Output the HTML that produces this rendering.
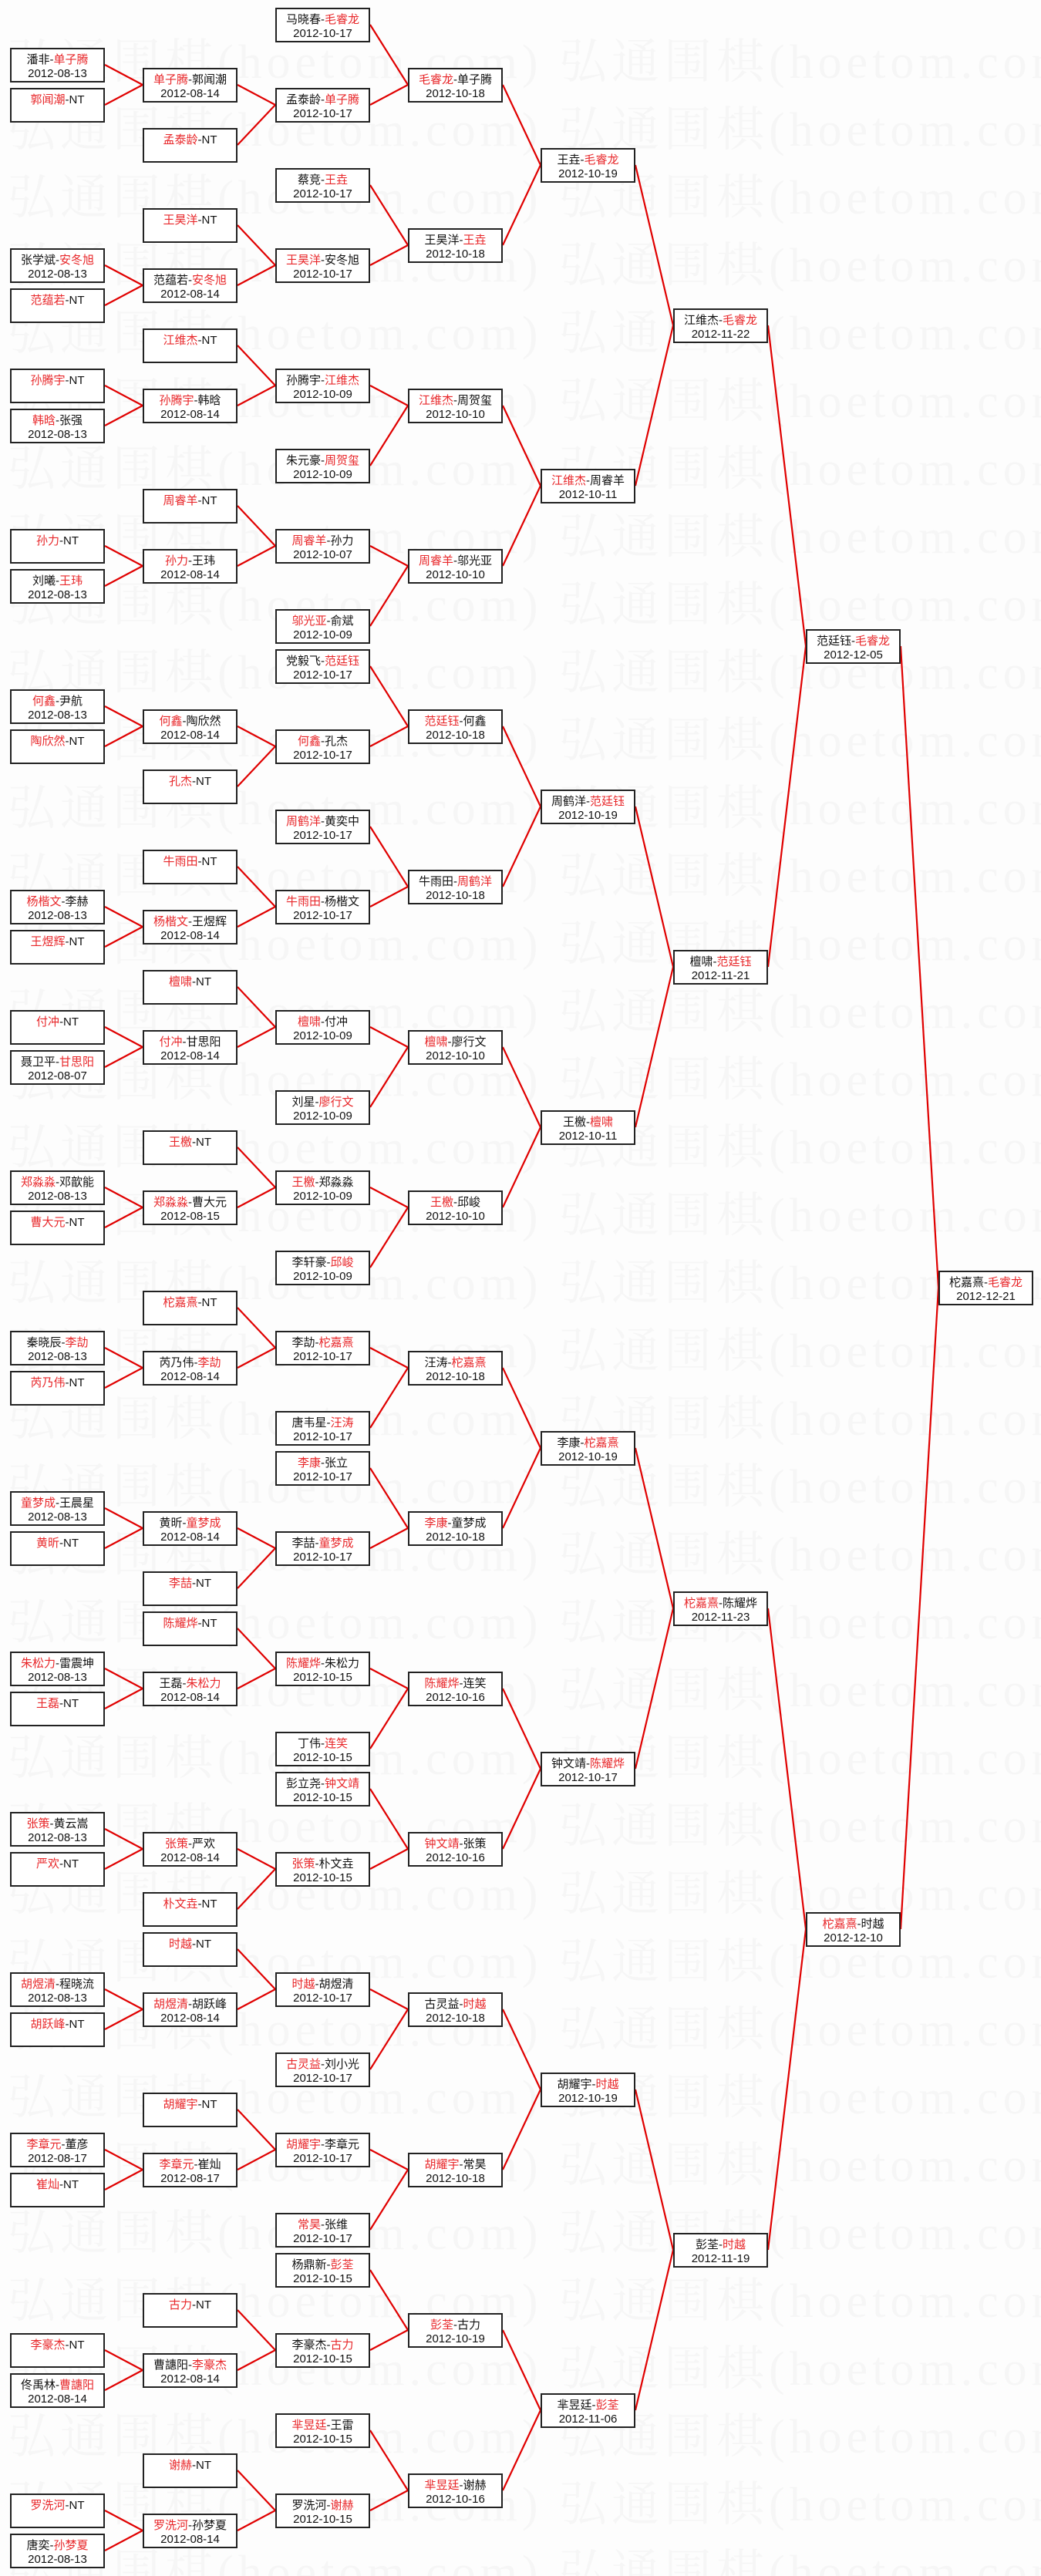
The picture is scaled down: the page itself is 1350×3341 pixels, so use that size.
<!DOCTYPE html>
<html><head><meta charset="utf-8">
<style>
html,body{margin:0;padding:0;background:#fdfdfd;}
#wrap{position:relative;width:1350px;height:3341px;overflow:hidden;background:#fdfdfd;}
.wm{position:absolute;left:10px;font-family:"Liberation Serif","Noto Serif CJK SC",serif;font-size:62px;color:#f6f6f6;white-space:nowrap;letter-spacing:6px;}
.b{position:absolute;width:119px;height:41px;border:2px solid #222;background:#fff;font-family:"Liberation Sans","Noto Sans CJK SC",sans-serif;font-size:15px;text-align:center;color:#111;line-height:18px;}
.b div{height:18px;}
.b .l1{margin-top:5px;}
.r{color:#e8272a;}
svg{position:absolute;left:0;top:0;}
</style></head><body><div id="wrap"></div>
<script>
var W=document.getElementById('wrap');
var wmh='';
for(var y=30;y<3341;y+=88){wmh+='<div class="wm" style="top:'+y+'px">弘通围棋(hoetom.com)&nbsp;弘通围棋(hoetom.com)</div>';}
var X=[13,185,357,529,701,873,1045,1217];
var D=[
[0,2,'潘非','单子腾',1,'2012-08-13'],[0,4,'郭闻潮','NT',0,''],[0,12,'张学斌','安冬旭',1,'2012-08-13'],[0,14,'范蕴若','NT',0,''],
[0,18,'孙腾宇','NT',0,''],[0,20,'韩晗','张强',0,'2012-08-13'],[0,26,'孙力','NT',0,''],[0,28,'刘曦','王玮',1,'2012-08-13'],
[0,34,'何鑫','尹航',0,'2012-08-13'],[0,36,'陶欣然','NT',0,''],[0,44,'杨楷文','李赫',0,'2012-08-13'],[0,46,'王煜辉','NT',0,''],
[0,50,'付冲','NT',0,''],[0,52,'聂卫平','甘思阳',1,'2012-08-07'],[0,58,'郑淼淼','邓歆能',0,'2012-08-13'],[0,60,'曹大元','NT',0,''],
[0,66,'秦晓辰','李劼',1,'2012-08-13'],[0,68,'芮乃伟','NT',0,''],[0,74,'童梦成','王晨星',0,'2012-08-13'],[0,76,'黄昕','NT',0,''],
[0,82,'朱松力','雷震坤',0,'2012-08-13'],[0,84,'王磊','NT',0,''],[0,90,'张策','黄云嵩',0,'2012-08-13'],[0,92,'严欢','NT',0,''],
[0,98,'胡煜清','程晓流',0,'2012-08-13'],[0,100,'胡跃峰','NT',0,''],[0,106,'李章元','董彦',0,'2012-08-17'],[0,108,'崔灿','NT',0,''],
[0,116,'李豪杰','NT',0,''],[0,118,'佟禹林','曹譓阳',1,'2012-08-14'],[0,124,'罗洗河','NT',0,''],[0,126,'唐奕','孙梦夏',1,'2012-08-13'],
[1,3,'单子腾','郭闻潮',0,'2012-08-14'],[1,6,'孟泰龄','NT',0,''],[1,10,'王昊洋','NT',0,''],[1,13,'范蕴若','安冬旭',1,'2012-08-14'],
[1,16,'江维杰','NT',0,''],[1,19,'孙腾宇','韩晗',0,'2012-08-14'],[1,24,'周睿羊','NT',0,''],[1,27,'孙力','王玮',0,'2012-08-14'],
[1,35,'何鑫','陶欣然',0,'2012-08-14'],[1,38,'孔杰','NT',0,''],[1,42,'牛雨田','NT',0,''],[1,45,'杨楷文','王煜辉',0,'2012-08-14'],
[1,48,'檀啸','NT',0,''],[1,51,'付冲','甘思阳',0,'2012-08-14'],[1,56,'王檄','NT',0,''],[1,59,'郑淼淼','曹大元',0,'2012-08-15'],
[1,64,'柁嘉熹','NT',0,''],[1,67,'芮乃伟','李劼',1,'2012-08-14'],[1,75,'黄昕','童梦成',1,'2012-08-14'],[1,78,'李喆','NT',0,''],
[1,80,'陈耀烨','NT',0,''],[1,83,'王磊','朱松力',1,'2012-08-14'],[1,91,'张策','严欢',0,'2012-08-14'],[1,94,'朴文垚','NT',0,''],
[1,96,'时越','NT',0,''],[1,99,'胡煜清','胡跃峰',0,'2012-08-14'],[1,104,'胡耀宇','NT',0,''],[1,107,'李章元','崔灿',0,'2012-08-17'],
[1,114,'古力','NT',0,''],[1,117,'曹譓阳','李豪杰',1,'2012-08-14'],[1,122,'谢赫','NT',0,''],[1,125,'罗洗河','孙梦夏',0,'2012-08-14'],
[2,0,'马晓春','毛睿龙',1,'2012-10-17'],[2,4,'孟泰龄','单子腾',1,'2012-10-17'],[2,8,'蔡竞','王垚',1,'2012-10-17'],[2,12,'王昊洋','安冬旭',0,'2012-10-17'],
[2,18,'孙腾宇','江维杰',1,'2012-10-09'],[2,22,'朱元豪','周贺玺',1,'2012-10-09'],[2,26,'周睿羊','孙力',0,'2012-10-07'],[2,30,'邬光亚','俞斌',0,'2012-10-09'],
[2,32,'党毅飞','范廷钰',1,'2012-10-17'],[2,36,'何鑫','孔杰',0,'2012-10-17'],[2,40,'周鹤洋','黄奕中',0,'2012-10-17'],[2,44,'牛雨田','杨楷文',0,'2012-10-17'],
[2,50,'檀啸','付冲',0,'2012-10-09'],[2,54,'刘星','廖行文',1,'2012-10-09'],[2,58,'王檄','郑淼淼',0,'2012-10-09'],[2,62,'李轩豪','邱峻',1,'2012-10-09'],
[2,66,'李劼','柁嘉熹',1,'2012-10-17'],[2,70,'唐韦星','汪涛',1,'2012-10-17'],[2,72,'李康','张立',0,'2012-10-17'],[2,76,'李喆','童梦成',1,'2012-10-17'],
[2,82,'陈耀烨','朱松力',0,'2012-10-15'],[2,86,'丁伟','连笑',1,'2012-10-15'],[2,88,'彭立尧','钟文靖',1,'2012-10-15'],[2,92,'张策','朴文垚',0,'2012-10-15'],
[2,98,'时越','胡煜清',0,'2012-10-17'],[2,102,'古灵益','刘小光',0,'2012-10-17'],[2,106,'胡耀宇','李章元',0,'2012-10-17'],[2,110,'常昊','张维',0,'2012-10-17'],
[2,112,'杨鼎新','彭荃',1,'2012-10-15'],[2,116,'李豪杰','古力',1,'2012-10-15'],[2,120,'芈昱廷','王雷',0,'2012-10-15'],[2,124,'罗洗河','谢赫',1,'2012-10-15'],
[3,3,'毛睿龙','单子腾',0,'2012-10-18'],[3,11,'王昊洋','王垚',1,'2012-10-18'],[3,19,'江维杰','周贺玺',0,'2012-10-10'],[3,27,'周睿羊','邬光亚',0,'2012-10-10'],
[3,35,'范廷钰','何鑫',0,'2012-10-18'],[3,43,'牛雨田','周鹤洋',1,'2012-10-18'],[3,51,'檀啸','廖行文',0,'2012-10-10'],[3,59,'王檄','邱峻',0,'2012-10-10'],
[3,67,'汪涛','柁嘉熹',1,'2012-10-18'],[3,75,'李康','童梦成',0,'2012-10-18'],[3,83,'陈耀烨','连笑',0,'2012-10-16'],[3,91,'钟文靖','张策',0,'2012-10-16'],
[3,99,'古灵益','时越',1,'2012-10-18'],[3,107,'胡耀宇','常昊',0,'2012-10-18'],[3,115,'彭荃','古力',0,'2012-10-19'],[3,123,'芈昱廷','谢赫',0,'2012-10-16'],
[4,7,'王垚','毛睿龙',1,'2012-10-19'],[4,23,'江维杰','周睿羊',0,'2012-10-11'],[4,39,'周鹤洋','范廷钰',1,'2012-10-19'],[4,55,'王檄','檀啸',1,'2012-10-11'],
[4,71,'李康','柁嘉熹',1,'2012-10-19'],[4,87,'钟文靖','陈耀烨',1,'2012-10-17'],[4,103,'胡耀宇','时越',1,'2012-10-19'],[4,119,'芈昱廷','彭荃',1,'2012-11-06'],
[5,15,'江维杰','毛睿龙',1,'2012-11-22'],[5,47,'檀啸','范廷钰',1,'2012-11-21'],[5,79,'柁嘉熹','陈耀烨',0,'2012-11-23'],[5,111,'彭荃','时越',1,'2012-11-19'],
[6,31,'范廷钰','毛睿龙',1,'2012-12-05'],[6,95,'柁嘉熹','时越',0,'2012-12-10'],
[7,63,'柁嘉熹','毛睿龙',1,'2012-12-21']
];
function Y(n){return 10+26*n;}
var ns={};
D.forEach(function(d){(ns[d[0]]=ns[d[0]]||[]).push(d[1]);});
var lines='';
for(var c=0;c<7;c++){
  var ch=ns[c].slice().sort(function(a,b){return a-b;});
  var pa=ns[c+1].slice().sort(function(a,b){return a-b;});
  for(var i=0;i<ch.length;i+=2){
    var lo=ch[i],hi=ch[i+1],p=null;
    for(var j=0;j<pa.length;j++){if(pa[j]>=lo&&pa[j]<=hi){p=pa[j];break;}}
    if(p===null)continue;
    [lo,hi].forEach(function(k){
      lines+='<line x1="'+(X[c]+123)+'" y1="'+(Y(k)+22)+'" x2="'+X[c+1]+'" y2="'+(Y(p)+22)+'"/>';
    });
  }
}
var h=wmh+'<svg width="1350" height="3341"><g stroke="#e00000" stroke-width="2.2" fill="none">'+lines+'</g></svg>';
D.forEach(function(d){
  var a=d[2],b=d[3],l1;
  if(b==='NT'){l1='<span class="r">'+a+'</span>-NT';}
  else if(d[4]===0){l1='<span class="r">'+a+'</span>-'+b;}
  else{l1=a+'-<span class="r">'+b+'</span>';}
  h+='<div class="b" style="left:'+X[d[0]]+'px;top:'+Y(d[1])+'px"><div class="l1">'+l1+'</div><div>'+d[5]+'</div></div>';
});
W.innerHTML=h;
</script></body></html>
